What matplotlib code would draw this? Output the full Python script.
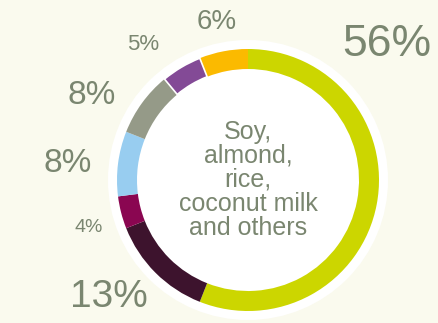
import matplotlib.pyplot as plt
from matplotlib.patches import Circle

# plant-based milk share, clockwise from the top
shares = [56, 13, 4, 8, 8, 5, 6]
labels = ['56%', '13%', '4%', '8%', '8%', '5%', '6%']
colors = ['#CCD600', '#3D132D', '#8A0651', '#98CDF0', '#959A88', '#834A96', '#FBBA00']
center_text = 'Soy,\nalmond,\nrice,\ncoconut milk\nand others'

# label layout (pixel coords from top-left) and font sizes
label_xy = [(387, 45), (109, 297), (89, 228), (68, 164), (92, 95), (143, 44), (217, 22)]
label_size = [32, 28, 14, 24, 24, 16, 20]

W, H = 439, 323
cx, cy = 248, 180
r_out, r_in, r_bg = 131, 111, 140

bg = '#FAFAEE'
txt = '#7A8670'

fig = plt.figure(figsize=(W / 100, H / 100), dpi=100, facecolor=bg)
ax = fig.add_axes([0, 0, 1, 1])
ax.set_xlim(0, W)
ax.set_ylim(0, H)
ax.set_aspect('equal')
ax.axis('off')

# white halo behind the ring
ax.add_patch(Circle((cx, H - cy), r_bg, facecolor='white', edgecolor='none', zorder=0))

wedges, _ = ax.pie(shares, colors=colors, startangle=90, counterclock=False,
                   center=(cx, H - cy), radius=r_out,
                   wedgeprops=dict(width=r_out - r_in, edgecolor='none', linewidth=0))
wedges[5].set_edgecolor('white')
wedges[5].set_linewidth(1.2)
wedges[5].set_zorder(3)
ax.set_xlim(0, W)
ax.set_ylim(0, H)

for lab, (x, y), fs in zip(labels, label_xy, label_size):
    ax.text(x, H - y, lab, ha='center', va='center', fontsize=fs,
            color=txt, family='Liberation Sans')

ax.text(cx, H - cy, center_text, ha='center', va='center', fontsize=18,
        color=txt, family='Liberation Sans', linespacing=1.0)

fig.savefig('out.png', dpi=100, facecolor=bg)
